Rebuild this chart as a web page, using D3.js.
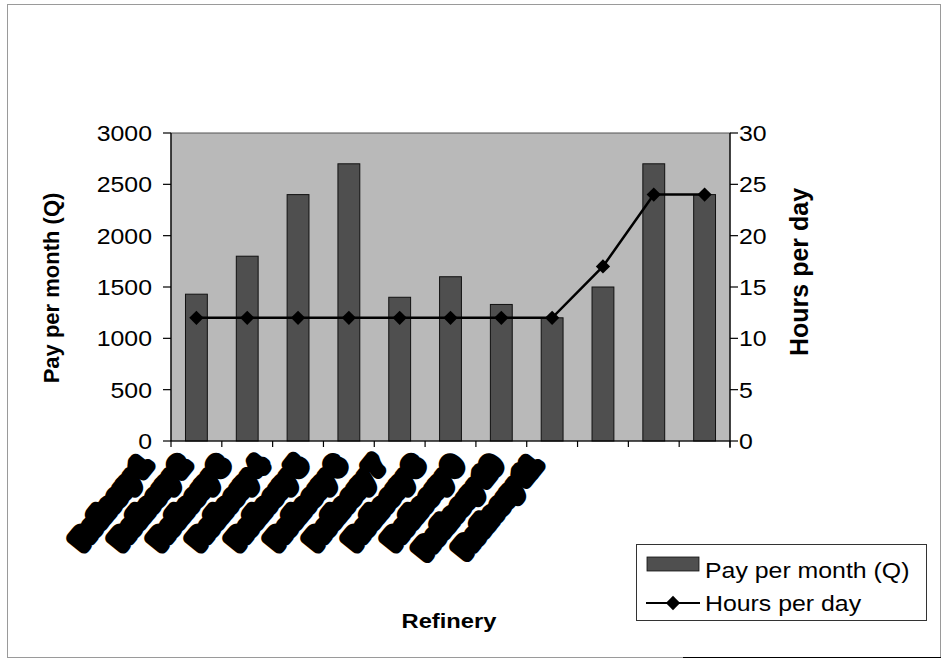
<!DOCTYPE html>
<html>
<head>
<meta charset="utf-8">
<script src="https://cdn.jsdelivr.net/npm/d3@7"></script>
<style>
  html, body { margin: 0; padding: 0; background: #fff; }
  svg { display: block; font-family: Arial, "Liberation Sans", sans-serif; }
</style>
</head>
<body>
<svg id="chart" width="942" height="661"></svg>
<script>
// ---- data ----
const categories = ["Refinery 1", "Refinery 2", "Refinery 3", "Refinery 4", "Refinery 5", "Refinery 6",
                    "Refinery 7", "Refinery 8", "Refinery 9", "Refinery 10", "Refinery 11"];
const payPerMonth = [1430, 1800, 2400, 2700, 1400, 1600, 1330, 1200, 1500, 2700, 2400];
const hoursPerDay = [12, 12, 12, 12, 12, 12, 12, 12, 17, 24, 24];
const leftTicks = [0, 500, 1000, 1500, 2000, 2500, 3000];
const rightTicks = [0, 5, 10, 15, 20, 25, 30];
const seriesNames = ["Pay per month (Q)", "Hours per day"];

// ---- layout ----
const svg = d3.select("#chart");
const P = { left: 171, right: 730, top: 133, bottom: 441 };
const SX = 1.13; // horizontal stretch of the reference text

const x = d3.scaleBand().domain(categories).range([P.left, P.right]).padding(0);
const yL = d3.scaleLinear().domain([0, 3000]).range([P.bottom, P.top]);
const yR = d3.scaleLinear().domain([0, 30]).range([P.bottom, P.top]);
const labelX = d3.scalePoint().domain(categories).range([150, 540]);

// outer frame
svg.append("rect").attr("x", 7.5).attr("y", 4.5).attr("width", 933).attr("height", 653)
  .attr("fill", "none").attr("stroke", "#9a9a9a").attr("stroke-width", 1);
svg.append("line").attr("x1", 683).attr("x2", 941).attr("y1", 657.5).attr("y2", 657.5)
  .attr("stroke", "#000").attr("stroke-width", 1.2);

// plot background
svg.append("rect").attr("x", P.left).attr("y", P.top)
  .attr("width", P.right - P.left).attr("height", P.bottom - P.top)
  .attr("fill", "#b9b9b9").attr("stroke", "#555").attr("stroke-width", 1);

// bars
const bw = x.bandwidth() * 0.43;
svg.append("g").selectAll("rect").data(categories).join("rect")
  .attr("x", d => x(d) + (x.bandwidth() - bw) / 2)
  .attr("y", (d, i) => yL(payPerMonth[i]))
  .attr("width", bw)
  .attr("height", (d, i) => yL(0) - yL(payPerMonth[i]))
  .attr("fill", "#4f4f4f").attr("stroke", "#111").attr("stroke-width", 1);

// line + markers
const cx = d => x(d) + x.bandwidth() / 2;
const line = d3.line().x((d, i) => cx(categories[i])).y(d => yR(d));
svg.append("path").datum(hoursPerDay).attr("d", line)
  .attr("fill", "none").attr("stroke", "#000").attr("stroke-width", 2.5);
const diamond = d3.symbol().type(d3.symbolDiamond2).size(130);
svg.append("g").selectAll("path").data(hoursPerDay).join("path")
  .attr("transform", (d, i) => `translate(${cx(categories[i])},${yR(d)})`)
  .attr("d", diamond).attr("fill", "#000");

// axes lines
const ax = svg.append("g").attr("stroke", "#000").attr("stroke-width", 1.2);
ax.append("line").attr("x1", P.left).attr("x2", P.right).attr("y1", P.bottom).attr("y2", P.bottom);
ax.append("line").attr("x1", P.left).attr("x2", P.left).attr("y1", P.top).attr("y2", P.bottom);
ax.append("line").attr("x1", P.right).attr("x2", P.right).attr("y1", P.top).attr("y2", P.bottom + 7);

// bottom ticks at band boundaries
const bounds = categories.map(d => x(d)).concat([P.right]);
ax.selectAll(".bt").data(bounds).join("line")
  .attr("x1", d => d).attr("x2", d => d).attr("y1", P.bottom).attr("y2", P.bottom + 6);

// left ticks + labels
ax.selectAll(".lt").data(leftTicks).join("line")
  .attr("x1", P.left - 8).attr("x2", P.left).attr("y1", d => yL(d)).attr("y2", d => yL(d));
svg.append("g").selectAll("text").data(leftTicks).join("text")
  .attr("transform", d => `translate(152,${yL(d) + 8}) scale(${SX},1)`)
  .attr("text-anchor", "end").attr("font-size", 22).attr("fill", "#000")
  .text(d => d);

// right ticks + labels
ax.selectAll(".rt").data(rightTicks).join("line")
  .attr("x1", P.right).attr("x2", P.right + 8).attr("y1", d => yR(d)).attr("y2", d => yR(d));
svg.append("g").selectAll("text").data(rightTicks).join("text")
  .attr("transform", d => `translate(739,${yR(d) + 8}) scale(${SX},1)`)
  .attr("text-anchor", "start").attr("font-size", 22).attr("fill", "#000")
  .text(d => d);

// axis titles
svg.append("text").attr("transform", "translate(59,288) rotate(-90)")
  .attr("text-anchor", "middle").attr("font-size", 22).attr("font-weight", "bold")
  .text("Pay per month (Q)");
svg.append("text").attr("transform", "translate(808,272) rotate(-90)")
  .attr("text-anchor", "middle").attr("font-size", 25).attr("font-weight", "bold")
  .text("Hours per day");
svg.append("text").attr("transform", `translate(449,628) scale(${SX},1)`)
  .attr("text-anchor", "middle").attr("font-size", 21).attr("font-weight", "bold")
  .text("Refinery");

// category labels (redacted in the reference)
svg.append("g").selectAll("text").data(categories).join("text")
  .attr("transform", d => `translate(${labelX(d)},466) rotate(-51)`)
  .attr("text-anchor", "end").attr("font-size", 22).attr("font-weight", "bold")
  .attr("fill", "#000").attr("stroke", "#000").attr("stroke-width", 12)
  .attr("stroke-linejoin", "round")
  .text(d => d);

// legend
const lg = svg.append("g");
lg.append("rect").attr("x", 636.5).attr("y", 544.5).attr("width", 290).attr("height", 76)
  .attr("fill", "#fff").attr("stroke", "#333").attr("stroke-width", 1);
lg.append("rect").attr("x", 647).attr("y", 557).attr("width", 52).attr("height", 14)
  .attr("fill", "#4f4f4f").attr("stroke", "#111").attr("stroke-width", 0.8);
lg.append("text").attr("transform", `translate(705,578) scale(${SX},1)`)
  .attr("font-size", 22).text(seriesNames[0]);
lg.append("line").attr("x1", 646).attr("x2", 700).attr("y1", 603).attr("y2", 603)
  .attr("stroke", "#000").attr("stroke-width", 2);
lg.append("path").attr("transform", "translate(673,603)").attr("d", diamond).attr("fill", "#000");
lg.append("text").attr("transform", `translate(705,611) scale(${SX},1)`)
  .attr("font-size", 22).text(seriesNames[1]);
</script>
</body>
</html>
